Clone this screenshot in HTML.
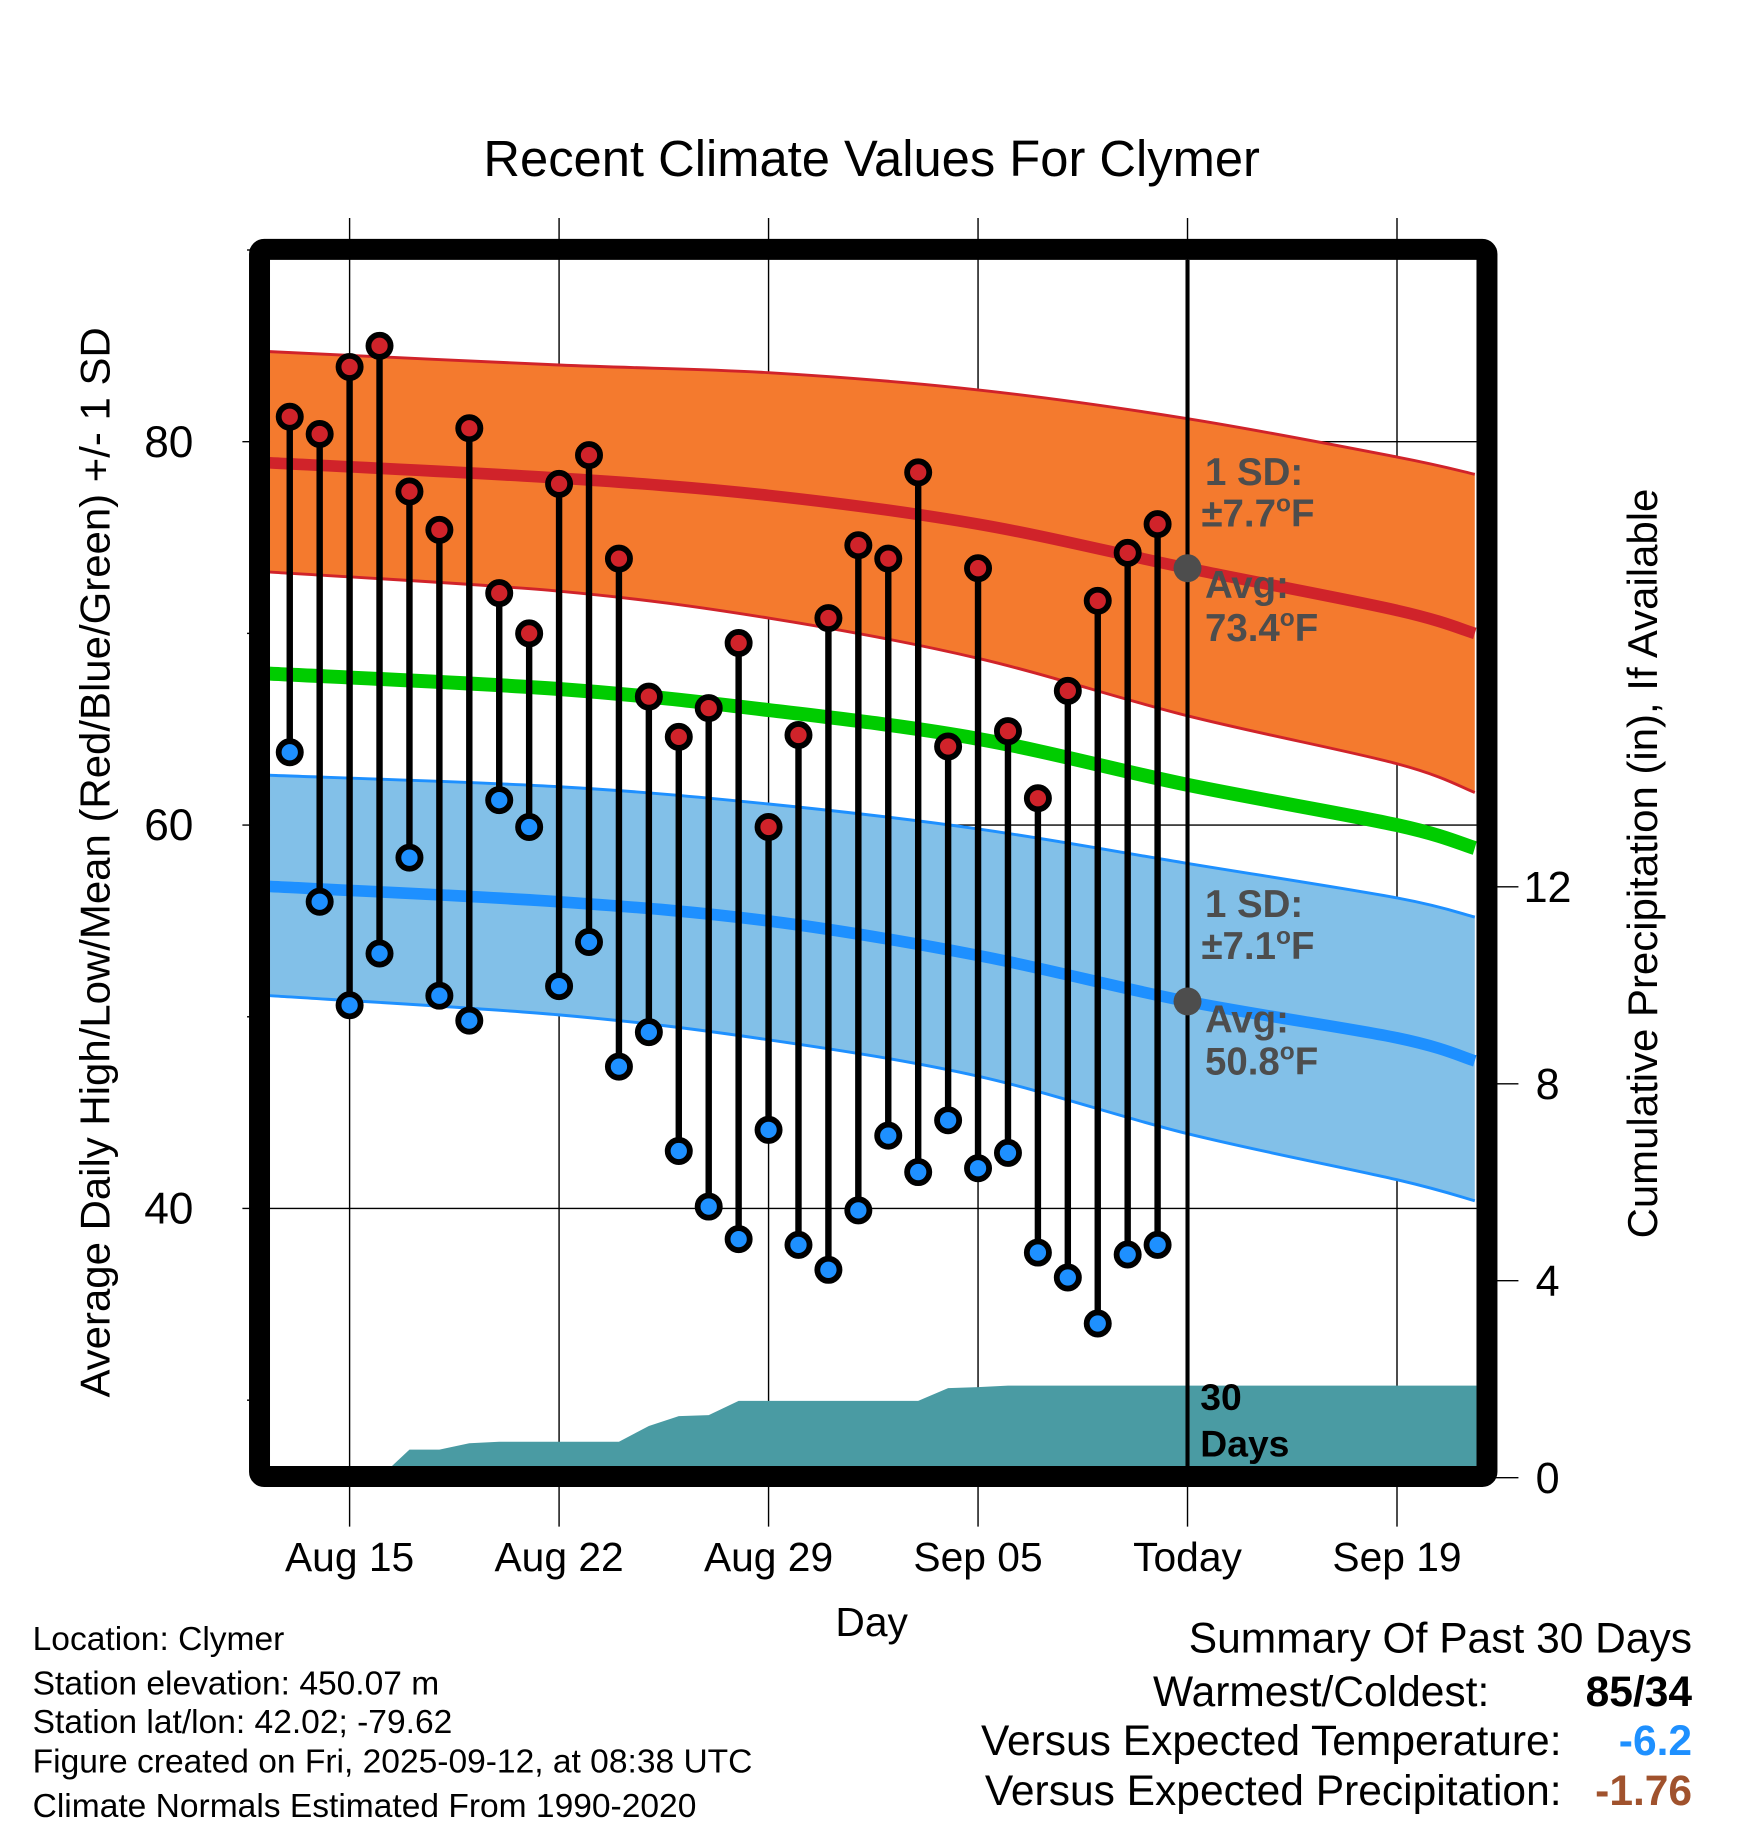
<!DOCTYPE html>
<html><head><meta charset="utf-8"><style>
html,body{margin:0;padding:0;background:#fff;}
svg{display:block;font-family:"Liberation Sans",sans-serif;}
</style></head><body>
<svg id="chart" width="1748" height="1828" viewBox="0 0 1500 1568.6" xmlns="http://www.w3.org/2000/svg">
<defs><clipPath id="plotclip"><rect x="231.7" y="223" width="1035.3" height="1036"/></clipPath></defs>
<text x="748" y="151" font-size="43.5" text-anchor="middle">Recent Climate Values For Clymer</text>
<g id="grid"></g>
<g id="plot" clip-path="url(#plotclip)"></g>
<g id="marks"></g>
<rect x="222.7" y="214" width="1053.3" height="1053" fill="none" stroke="#000" stroke-width="18" rx="4"/>
<g id="axes"></g>
<g font-size="33" font-weight="bold" fill="#4d4d4d">
<text x="1034" y="416">1 SD:</text>
<text x="1031" y="452">±7.7<tspan font-size="21" dy="-13">o</tspan><tspan dy="13">F</tspan></text>
<text x="1034" y="513">Avg:</text>
<text x="1034" y="550">73.4<tspan font-size="21" dy="-13">o</tspan><tspan dy="13">F</tspan></text>
<text x="1034" y="787">1 SD:</text>
<text x="1031" y="823">±7.1<tspan font-size="21" dy="-13">o</tspan><tspan dy="13">F</tspan></text>
<text x="1034" y="886">Avg:</text>
<text x="1034" y="922">50.8<tspan font-size="21" dy="-13">o</tspan><tspan dy="13">F</tspan></text>
</g>
<g font-size="32" font-weight="bold" fill="#000">
<text x="1030" y="1210">30</text>
<text x="1030" y="1250">Days</text>
</g>
<text transform="translate(94,740) rotate(-90)" font-size="36" text-anchor="middle">Average Daily High/Low/Mean (Red/Blue/Green) +/- 1 SD</text>
<text transform="translate(1422,741) rotate(-90)" font-size="36" text-anchor="middle">Cumulative Precipitation (in), If Available</text>
<text x="748" y="1404" font-size="35" text-anchor="middle">Day</text>
<g font-size="28.8">
<text x="28" y="1416">Location: Clymer</text>
<text x="28" y="1454">Station elevation: 450.07 m</text>
<text x="28" y="1487">Station lat/lon: 42.02; -79.62</text>
<text x="28" y="1521">Figure created on Fri, 2025-09-12, at 08:38 UTC</text>
<text x="28" y="1559">Climate Normals Estimated From 1990-2020</text>
</g>
<g font-size="36.5">
<text x="1452" y="1418" text-anchor="end">Summary Of Past 30 Days</text>
<text x="1278" y="1464" text-anchor="end">Warmest/Coldest:</text>
<text x="1452" y="1464" text-anchor="end" font-weight="bold">85/34</text>
<text x="1340" y="1506" text-anchor="end">Versus Expected Temperature:</text>
<text x="1452" y="1506" text-anchor="end" font-weight="bold" fill="#1e90ff">-6.2</text>
<text x="1340" y="1549" text-anchor="end">Versus Expected Precipitation:</text>
<text x="1452" y="1549" text-anchor="end" font-weight="bold" fill="#a0522d">-1.76</text>
</g>
</svg>
<script>
const highs=[81.3,80.4,83.9,85.0,77.4,75.4,80.7,72.1,70.0,77.8,79.3,73.9,66.7,64.6,66.1,69.5,59.9,64.7,70.8,74.6,73.9,78.4,64.1,73.4,64.9,61.4,67.0,71.7,74.2,75.7];
const lows=[63.8,56.0,50.6,53.3,58.3,51.1,49.8,61.3,59.9,51.6,53.9,47.4,49.2,43.0,40.1,38.4,44.1,38.1,36.8,39.9,43.8,41.9,44.6,42.1,42.9,37.7,36.4,34.0,37.6,38.1];
const firstDay=-2; // Aug 13 relative to Aug 15
const normDays=[-2.67,7,14,21,28,35,37.6];
const hiUpper=[84.7,84.0,83.6,82.7,81.2,79.2,78.3];
const hiAvg=[78.9,78.1,77.2,75.7,73.4,71.2,70.0];
const hiLower=[73.2,72.2,70.8,68.7,65.7,63.2,61.7];
const loUpper=[62.6,62.0,61.1,59.8,58.0,56.2,55.2];
const loAvg=[56.8,56.0,55.0,53.2,50.8,48.9,47.7];
const loLower=[51.1,50.1,48.8,46.9,43.9,41.5,40.4];
const meanT=[67.9,67.1,66.0,64.5,62.1,60.0,58.8];
const precip=[0,0,0,0,0.57,0.57,0.70,0.73,0.73,0.73,0.73,0.73,1.05,1.25,1.27,1.56,1.56,1.56,1.56,1.56,1.56,1.56,1.82,1.84,1.87,1.87,1.87,1.87,1.87,1.87,1.87];
const xTickDays=[0,7,14,21,28,35];
const xTickLabels=["Aug 15","Aug 22","Aug 29","Sep 05","Today","Sep 19"];
const yTicks=[40,60,80];
const yMinor=[30,50,70,90];
const pTicks=[0,4,8,12];
const todayDay=28;

const NS="http://www.w3.org/2000/svg";
const X=d=>300+d*25.68;
const Y=t=>379+(80-t)*16.45;
const P=p=>1268-p*42.25;
const XL=231.7, XR=1267;
function mk(tag,attrs,parent){const e=document.createElementNS(NS,tag);for(const k in attrs)e.setAttribute(k,attrs[k]);parent.appendChild(e);return e;}
const grid=document.getElementById('grid'),plot=document.getElementById('plot'),marks=document.getElementById('marks'),axes=document.getElementById('axes');

// smooth path through normals (Catmull-Rom to Bezier)
function pts(arr){return normDays.map((d,i)=>[X(d),Y(arr[i])]);}
function smooth(p,start){let s=start?('M'+p[0][0]+','+p[0][1]):('L'+p[0][0]+','+p[0][1]);
  for(let i=0;i<p.length-1;i++){const p0=p[i-1]||p[i],p1=p[i],p2=p[i+1],p3=p[i+2]||p2;
    const c1=[p1[0]+(p2[0]-p0[0])/6,p1[1]+(p2[1]-p0[1])/6],c2=[p2[0]-(p3[0]-p1[0])/6,p2[1]-(p3[1]-p1[1])/6];
    s+=' C'+c1[0]+','+c1[1]+' '+c2[0]+','+c2[1]+' '+p2[0]+','+p2[1];}
  return s;}
function band(up,lo){return smooth(pts(up),true)+' '+smooth(pts(lo).reverse(),false)+' Z';}
let e;
e=mk('path',{d:band(hiUpper,hiLower),fill:'#f47a2e'},plot);


e=mk('path',{d:band(loUpper,loLower),fill:'#82c0e8'},plot);


[[hiUpper,'#d0232a',2.5,'high-sd-upper'],[hiLower,'#d0232a',2.5,'high-sd-lower'],[loUpper,'#1e90ff',2.5,'low-sd-upper'],[loLower,'#1e90ff',2.5,'low-sd-lower'],[hiAvg,'#d0232a',10,'high-avg-line'],[loAvg,'#1e90ff',10,'low-avg-line'],[meanT,'#00cc00',12,'mean-line']].forEach(([a,c,w,n])=>{
  const l=mk('path',{d:smooth(pts(a),true),fill:'none',stroke:c,'stroke-width':w},plot);
  
  
});
// precip area
let pp=[XL+','+P(0)];
precip.forEach((v,i)=>pp.push(X(firstDay+i)+','+P(v)));
pp.push(XR+','+P(precip[precip.length-1]));pp.push(XR+','+P(0));
e=mk('polygon',{points:pp.join(' '),fill:'#4a9ba3'},plot);



xTickDays.forEach((d,i)=>{
  const g=mk('line',{x1:X(d),x2:X(d),y1:187,y2:1310,stroke:'#000','stroke-width':1.2},grid);
  
  
  const t=mk('text',{x:X(d),y:1348,'font-size':35,'text-anchor':'middle'},axes);
  t.textContent=xTickLabels[i];
  
  
});
yTicks.forEach(v=>{
  const g=mk('line',{x1:208,x2:XR,y1:Y(v),y2:Y(v),stroke:'#000','stroke-width':1.2},grid);
  
  
  const t=mk('text',{x:166,y:Y(v)+13,'font-size':38,'text-anchor':'end'},axes);
  t.textContent=v;
  
  
});
yMinor.forEach(v=>{
  const g=mk('line',{x1:212,x2:224,y1:Y(v),y2:Y(v),stroke:'#000','stroke-width':1.2},grid);
  
  
});
pTicks.forEach(v=>{
  const g=mk('line',{x1:1276,x2:1303,y1:P(v),y2:P(v),stroke:'#000','stroke-width':1.2},axes);
  
  
  const t=mk('text',{x:1328,y:P(v)+13,'font-size':37,'text-anchor':'middle'},axes);
  t.textContent=v;
  
  
});
e=mk('line',{x1:X(todayDay),x2:X(todayDay),y1:223,y2:1259,stroke:'#000','stroke-width':3.5},marks);


highs.forEach((h,i)=>{
  const x=X(firstDay+i);
  const s=mk('line',{x1:x,x2:x,y1:Y(h),y2:Y(lows[i]),stroke:'#000','stroke-width':5.5},marks);
  
  
  const ch=mk('circle',{cx:x,cy:Y(h),r:9.5,fill:'#d0232a',stroke:'#000','stroke-width':5},marks);
  
  
  const cl=mk('circle',{cx:x,cy:Y(lows[i]),r:9.5,fill:'#1e90ff',stroke:'#000','stroke-width':5},marks);
  
  
});
const ti=4;
e=mk('circle',{cx:X(todayDay),cy:Y(hiAvg[ti]),r:12,fill:'#4d4d4d'},marks);


e=mk('circle',{cx:X(todayDay),cy:Y(loAvg[ti]),r:12,fill:'#4d4d4d'},marks);


</script>
</body></html>
